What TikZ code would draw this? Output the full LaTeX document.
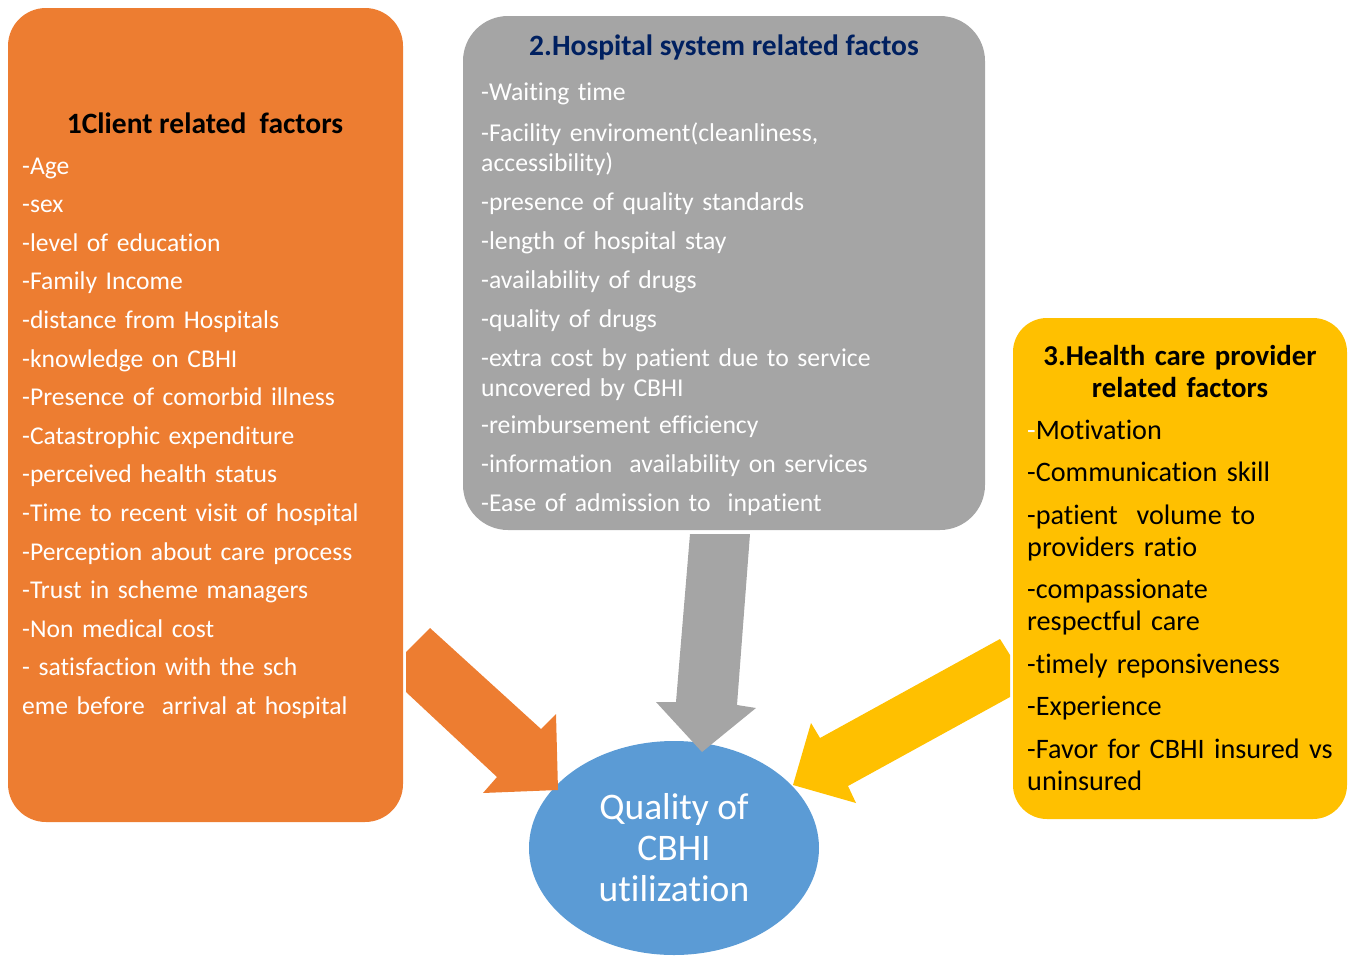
\documentclass[tikz,border=0pt]{standalone}
\usepackage{fontspec}
\setmainfont{Carlito}[Ligatures=NoCommon]
\usepackage{xcolor}
\usetikzlibrary{shapes.geometric}
\definecolor{clientorange}{HTML}{ED7D31}
\definecolor{hospgray}{HTML}{A5A5A5}
\definecolor{provyellow}{HTML}{FFC000}
\definecolor{qualblue}{HTML}{5B9BD5}
\definecolor{titlenavy}{HTML}{002060}

\begin{document}
\begin{tikzpicture}[x=1pt,y=-1pt,
    factorbox/.style={draw=none, inner sep=0pt},
    itemlist/.style={anchor=base west, align=left, inner sep=0pt, text width=#1},
    headline/.style={anchor=base, align=center, inner sep=0pt, font=\bfseries\fontsize{29.5}{32}\selectfont}]
%   \draw[help lines] (0,0) grid[step=50] (1353,956);
    \useasboundingbox (0,0) rectangle (1353,956);
    % outcome
    \node[ellipse, fill=qualblue, minimum width=290pt, minimum height=214pt, inner sep=0pt,
          text=white, align=center, font=\fontsize{37.5}{41}\selectfont] (quality) at (674,848) {Quality of\\CBHI\\utilization};
    % block arrows
    \fill[clientorange] (430,628) -- (541,729) -- (556,714) -- (558,790) -- (483,793) -- (497,777) -- (406,692) -- (406,652) -- cycle;
    \fill[hospgray] (690,534) -- (750,534) -- (737,705) -- (756,708) -- (702,752) -- (656,702) -- (676,702) -- cycle;
    \fill[provyellow] (1000,639) -- (1010,655) -- (1010,697) -- (848,786) -- (856,803) -- (793,785) -- (811,723) -- (820,738) -- cycle;
    % factor boxes
    \node[factorbox, fill=clientorange, rounded corners=38pt, minimum width=395pt, minimum height=814pt] (client) at (205.5,415) {};
    \node[factorbox, fill=hospgray, rounded corners=45pt, minimum width=522pt, minimum height=514pt] (hospital) at (724,273) {};
    \node[factorbox, fill=provyellow, rounded corners=34pt, minimum width=334pt, minimum height=501pt] (provider) at (1180,568.5) {};
    % 1 client
    \node[headline] (clienttitle) at (205,133) {1Client related\ \ factors};
    \node[itemlist=380pt, text=white, font=\fontsize{25.6}{38.6}\selectfont] (clientitems) at (22,174) {%
        -Age\\
        -sex\\
        -level of education\\
        -Family Income\\
        -distance from Hospitals\\
        -knowledge on CBHI\\
        -Presence of comorbid illness\\
        -Catastrophic expenditure\\
        -perceived health status\\
        -Time to recent visit of hospital\\
        -Perception about care process\\
        -Trust in scheme managers\\
        -Non medical cost\\
        - satisfaction with the sch\\
        eme before\ \ arrival at hospital};
    % 2 hospital
    \node[headline, text=titlenavy] (hospitaltitle) at (724,55) {2.Hospital system related factos};
    \node[itemlist=500pt, text=white, font=\fontsize{25.7}{29.8}\selectfont] (hospitalitems) at (481,100) {%
        -Waiting time\\[11.5pt]
        -Facility enviroment(cleanliness,\\
        accessibility)\\[9.3pt]
        -presence of quality standards\\[9.3pt]
        -length of hospital stay\\[9.3pt]
        -availability of drugs\\[9.3pt]
        -quality of drugs\\[9.3pt]
        -extra cost by patient due to service\\
        uncovered by CBHI\\[7.3pt]
        -reimbursement efficiency\\[9.3pt]
        -information\ \ availability on services\\[9.3pt]
        -Ease of admission to\ \ inpatient};
    % 3 provider
    \node[headline, text width=330pt, font=\bfseries\fontsize{28.8}{32}\selectfont] (providertitle) at (1180,365) {3.Health care provider\\related factors};
    \node[itemlist=330pt, text=black, font=\fontsize{28.2}{32}\selectfont] (provideritems) at (1027,439) {%
        \textcolor{white}{-}Motivation\\[10.5pt]
        -Communication skill\\[10.5pt]
        -patient\ \ volume to\\
        providers ratio\\[10.5pt]
        -compassionate\\
        respectful care\\[10.5pt]
        -timely reponsiveness\\[10.5pt]
        -Experience\\[10.5pt]
        -Favor for CBHI insured vs\\
        uninsured};
\end{tikzpicture}
\end{document}
